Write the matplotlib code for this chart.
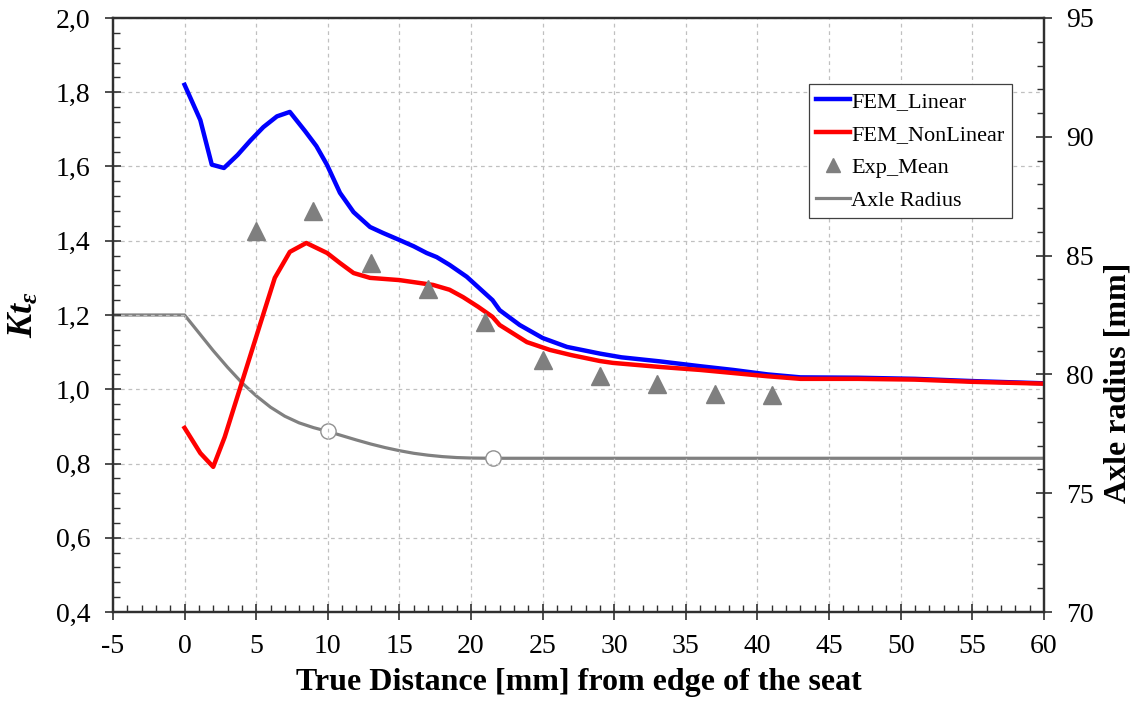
import matplotlib
matplotlib.use('Agg')
import matplotlib.pyplot as plt
from matplotlib.ticker import MultipleLocator, FuncFormatter
from matplotlib.lines import Line2D

plt.rcParams.update({
    'font.family': ['Liberation Serif', 'DejaVu Serif'],
    'mathtext.fontset': 'custom',
    'mathtext.rm': 'Liberation Serif:bold',
    'mathtext.it': 'Liberation Serif:italic:bold',
    'mathtext.bf': 'Liberation Serif:bold',
    'axes.unicode_minus': False,
})

# FEM linear solution
x_lin = [0, 1.1, 1.9, 2.75, 3.7, 4.6, 5.5, 6.45, 7.35, 8.4, 9.2, 9.95, 10.85, 11.8,
         12.95, 13.85, 15.0, 16.0, 16.9, 17.6, 18.5, 19.7, 20.5, 21.5, 22.0, 23.4,
         25.0, 26.7, 29.0, 30.5, 33.2, 36.0, 38.3, 40.7, 43.0, 47.0, 51.0, 55.0, 60.0]
kt_lin = [1.82, 1.725, 1.605, 1.596, 1.631, 1.67, 1.706, 1.735, 1.747, 1.696, 1.655,
          1.604, 1.529, 1.477, 1.437, 1.421, 1.402, 1.385, 1.367, 1.356, 1.335, 1.303,
          1.275, 1.240, 1.213, 1.173, 1.138, 1.114, 1.096, 1.086, 1.075, 1.062, 1.052,
          1.040, 1.032, 1.031, 1.028, 1.022, 1.016]

# FEM non-linear solution
x_nl = [0, 1.1, 2.0, 2.8, 3.9, 5.3, 6.3, 7.35, 8.5, 9.95, 10.85, 11.8, 12.95, 15.0,
        17.35, 18.5, 19.45, 20.5, 21.5, 22.0, 23.9, 25.5, 27.0, 29.0, 29.9, 33.2,
        36.0, 40.7, 43.0, 47.0, 51.0, 55.0, 60.0]
kt_nl = [0.896, 0.828, 0.791, 0.871, 1.006, 1.178, 1.300, 1.370, 1.394, 1.367, 1.340,
         1.313, 1.300, 1.294, 1.281, 1.268, 1.248, 1.222, 1.195, 1.173, 1.127, 1.106,
         1.092, 1.076, 1.071, 1.060, 1.052, 1.035, 1.028, 1.028, 1.026, 1.020, 1.015]

# experimental mean values
x_exp = [5, 9, 13, 17, 21, 25, 29, 33, 37, 41]
kt_exp = [1.426, 1.48, 1.340, 1.270, 1.181, 1.079, 1.036, 1.014, 0.987, 0.984]

# axle profile (right axis)
x_ax = [-5, 0, 1, 2, 3, 4, 5, 6, 7, 8, 9, 10, 11, 12, 13, 14, 15, 16, 17, 18, 19,
        20, 21.5, 60]
r_ax = [82.5, 82.5, 81.75, 81.0, 80.3, 79.65, 79.1, 78.62, 78.24, 77.96, 77.76, 77.6,
        77.42, 77.24, 77.07, 76.92, 76.79, 76.68, 76.6, 76.54, 76.5, 76.48, 76.47, 76.47]
x_fillet = [10, 21.5]
r_fillet = [77.6, 76.47]

BLUE, RED, GREY = '#0000ff', '#ff0000', '#808080'
FRAME = '#303030'

fig = plt.figure(figsize=(11.34, 7.05), dpi=100)
ax = fig.add_axes([0.0996, 0.1319, 0.8210, 0.8426])
ax2 = ax.twinx()
ax.set_zorder(ax2.get_zorder() + 1)
ax.patch.set_visible(False)

ax.plot(x_lin, kt_lin, color=BLUE, lw=3.2, solid_joinstyle='round')
ax.plot(x_nl, kt_nl, color=RED, lw=3.2, solid_joinstyle='round')
ax.plot(x_exp, kt_exp, ls='none', marker='^', ms=13, color='#7f7f7f', mec='#7f7f7f')

ax2.plot(x_ax, r_ax, color=GREY, lw=2.3)
ax2.plot(x_fillet, r_fillet, ls='none', marker='o', ms=11, mfc='white', mec='#909090', mew=1)

ax.set_xlim(-5, 60)
ax.set_ylim(0.4, 2.0)
ax2.set_ylim(70, 95)

ax.xaxis.set_major_locator(MultipleLocator(5))
ax.xaxis.set_minor_locator(MultipleLocator(1))
ax.yaxis.set_major_locator(MultipleLocator(0.2))
ax.yaxis.set_minor_locator(MultipleLocator(0.04))
ax2.yaxis.set_major_locator(MultipleLocator(5))
ax2.yaxis.set_minor_locator(MultipleLocator(1))
ax.yaxis.set_major_formatter(FuncFormatter(lambda v, p: f'{v:.1f}'.replace('.', ',')))

ax.grid(True, which='major', color='#c0c0c0', ls=(0, (3, 3)), lw=0.9)

for a in (ax, ax2):
    for s in a.spines.values():
        s.set_color(FRAME)
        s.set_linewidth(1.6)
ax.tick_params(which='major', direction='inout', length=12, width=1.2, color=FRAME,
               labelsize=20, pad=10)
ax.tick_params(which='minor', direction='in', length=5, width=1.0, color=FRAME)
ax2.tick_params(which='major', direction='inout', length=12, width=1.2, color=FRAME,
                labelsize=20, pad=10)
ax2.tick_params(which='minor', direction='in', length=5, width=1.0, color=FRAME)

ax.set_xlabel('True Distance [mm] from edge of the seat', fontsize=23,
              fontweight='bold')
ax.xaxis.set_label_coords(0.5, -0.094)
ax.set_ylabel(r'$Kt_{\varepsilon}$', fontsize=26)
ax.yaxis.set_label_coords(-0.077, 0.5)
ax2.set_ylabel('Axle radius [mm]', fontsize=23, fontweight='bold')
ax2.yaxis.set_label_coords(1.064, 0.385)

handles = [
    Line2D([], [], color=BLUE, lw=3.2),
    Line2D([], [], color=RED, lw=3.2),
    Line2D([], [], ls='none', marker='^', ms=10, color='#7f7f7f'),
    Line2D([], [], color=GREY, lw=2.3),
]
labels = ['FEM_Linear', 'FEM_NonLinear', 'Exp_Mean', 'Axle Radius']
leg = ax.legend(handles, labels, loc='upper right', bbox_to_anchor=(0.9656, 0.889),
                fontsize=16, frameon=True, fancybox=False, framealpha=1,
                edgecolor='#404040', handlelength=1.5, handletextpad=0.05,
                borderpad=0.35, labelspacing=0.55, borderaxespad=0)
leg.get_frame().set_linewidth(0.9)

fig.savefig('out.png', dpi=100, facecolor='white')
